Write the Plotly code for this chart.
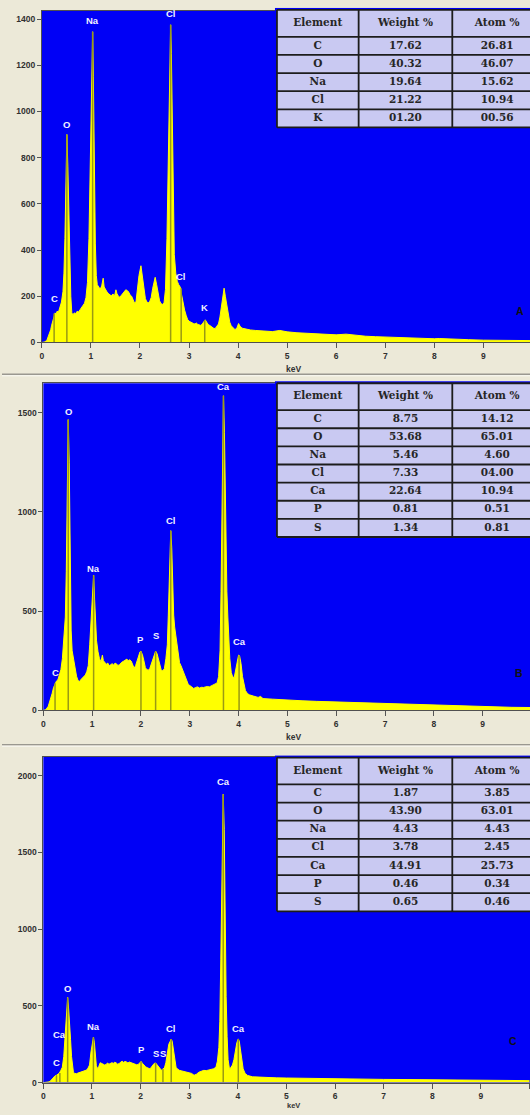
import plotly.graph_objects as go

W, H = 530, 1115

# ---------------- Panel A data ----------------
KEV_A = [0.00, 0.05, 0.10, 0.14, 0.18, 0.20, 0.23, 0.25, 0.27, 0.29, 0.31, 0.34, 0.37, 0.40, 0.43, 0.45,
         0.47, 0.49, 0.51, 0.53, 0.55, 0.57, 0.59, 0.61, 0.63, 0.66, 0.69, 0.72, 0.75, 0.78, 0.81, 0.84,
         0.87, 0.90, 0.93, 0.96, 0.99, 1.02, 1.035, 1.05, 1.07, 1.09, 1.11, 1.13, 1.16, 1.19, 1.22, 1.25,
         1.27, 1.30, 1.33, 1.36, 1.39, 1.42, 1.45, 1.48, 1.51, 1.53, 1.56, 1.59, 1.62, 1.65, 1.68, 1.71,
         1.74, 1.77, 1.80, 1.83, 1.86, 1.89, 1.92, 1.95, 1.98, 2.02, 2.05, 2.08, 2.11, 2.14, 2.17, 2.20,
         2.23, 2.26, 2.29, 2.31, 2.34, 2.37, 2.40, 2.43, 2.46, 2.49, 2.52, 2.55, 2.58, 2.61, 2.625, 2.64,
         2.66, 2.68, 2.70, 2.73, 2.76, 2.79, 2.82, 2.85, 2.88, 2.91, 2.94, 2.97, 3.00, 3.03, 3.06, 3.09,
         3.12, 3.15, 3.18, 3.21, 3.24, 3.27, 3.30, 3.33, 3.36, 3.39, 3.42, 3.45, 3.48, 3.51, 3.54, 3.57,
         3.60, 3.63, 3.66, 3.69, 3.715, 3.74, 3.77, 3.80, 3.83, 3.86, 3.90, 3.94, 3.98, 4.01, 4.04, 4.08,
         4.12, 4.18, 4.25, 4.35, 4.50, 4.70, 4.85, 5.00, 5.20, 5.40, 5.60, 5.80, 6.00, 6.20, 6.40, 6.60,
         6.80, 7.00, 7.20, 7.50, 7.80, 8.00, 8.10, 8.40, 8.70, 9.00, 9.40, 9.70, 10.00]
CPS_A = [0, 2, 8, 30, 55, 75, 100, 118, 128, 122, 135, 132, 150, 175, 220, 300,
         450, 680, 900, 760, 520, 330, 200, 130, 118, 128, 125, 135, 132, 142, 150, 162,
         170, 195, 260, 450, 800, 1200, 1345, 1150, 750, 430, 290, 250, 240, 230, 245, 278,
         240, 225, 218, 212, 205, 203, 210, 200, 228, 212, 200, 196, 205, 212, 220, 228,
         225, 218, 205, 200, 185, 170, 178, 230, 290, 332, 280, 225, 190, 175, 172, 178,
         195, 235, 270, 282, 250, 215, 180, 168, 165, 170, 230, 450, 850, 1250, 1375, 1250,
         900, 560, 380, 300, 265, 250, 240, 205, 170, 140, 118, 100, 92, 88, 85, 82,
         80, 84, 78, 76, 74, 80, 88, 98, 88, 78, 74, 68, 64, 60, 62, 70,
         80, 110, 160, 210, 235, 200, 160, 110, 88, 72, 62, 55, 65, 82, 70, 62,
         60, 56, 54, 52, 50, 47, 52, 46, 42, 40, 37, 34, 33, 36, 30, 27,
         25, 23, 22, 20, 18, 16, 17, 13, 12, 10, 9, 8, 8]
PEAK_EL_A = ["C", "O", "Na", "Cl", "Cl", "K"]
PEAK_KEV_A = [0.25, 0.51, 1.035, 2.625, 2.84, 3.32]
PEAK_H_A = [125, 900, 1345, 1375, 235, 97]
LABEL_H_A = [158, 913, 1361, 1392, 253, 119]
TAB_EL_A = ["C", "O", "Na", "Cl", "K"]
TAB_WT_A = ["17.62", "40.32", "19.64", "21.22", "01.20"]
TAB_AT_A = ["26.81", "46.07", "15.62", "10.94", "00.56"]

# ---------------- Panel B data ----------------
KEV_B = [0.00, 0.05, 0.10, 0.14, 0.18, 0.21, 0.24, 0.27, 0.30, 0.33, 0.36, 0.39, 0.42, 0.45, 0.47, 0.49,
         0.51, 0.53, 0.55, 0.57, 0.59, 0.62, 0.65, 0.68, 0.71, 0.74, 0.77, 0.80, 0.83, 0.86, 0.89, 0.92,
         0.95, 0.98, 1.00, 1.03, 1.05, 1.07, 1.09, 1.12, 1.15, 1.18, 1.21, 1.23, 1.26, 1.29, 1.32, 1.35,
         1.38, 1.41, 1.44, 1.47, 1.50, 1.53, 1.56, 1.59, 1.62, 1.65, 1.68, 1.71, 1.74, 1.77, 1.80, 1.83,
         1.86, 1.89, 1.92, 1.95, 1.98, 2.00, 2.03, 2.06, 2.09, 2.12, 2.15, 2.18, 2.21, 2.24, 2.27, 2.30,
         2.33, 2.36, 2.39, 2.42, 2.45, 2.48, 2.51, 2.54, 2.56, 2.58, 2.61, 2.63, 2.65, 2.67, 2.69, 2.71,
         2.73, 2.76, 2.79, 2.82, 2.85, 2.88, 2.91, 2.94, 2.97, 3.00, 3.04, 3.08, 3.12, 3.16, 3.20, 3.24,
         3.28, 3.32, 3.36, 3.40, 3.44, 3.48, 3.52, 3.56, 3.59, 3.62, 3.64, 3.66, 3.69, 3.71, 3.73, 3.76,
         3.78, 3.80, 3.82, 3.85, 3.88, 3.91, 3.94, 3.97, 4.00, 4.02, 4.05, 4.08, 4.11, 4.14, 4.18, 4.22,
         4.30, 4.40, 4.45, 4.50, 4.70, 5.00, 5.30, 5.60, 6.00, 6.30, 6.60, 7.00, 7.30, 7.60, 8.00, 8.30,
         8.60, 9.00, 9.30, 9.60, 10.00]
CPS_B = [0, 3, 20, 50, 85, 115, 136, 148, 155, 180, 205, 260, 350, 470, 700, 1100,
         1465, 1250, 800, 400, 300, 255, 210, 172, 150, 145, 155, 162, 168, 178, 195, 225,
         330, 480, 580, 680, 560, 420, 350, 295, 260, 245, 278, 250, 238, 232, 238, 225,
         230, 235, 228, 238, 233, 226, 230, 240, 245, 248, 255, 258, 250, 255, 248, 230,
         212, 225, 250, 275, 295, 298, 280, 250, 215, 205, 202, 210, 230, 255, 280, 298,
         285, 260, 225, 198, 200, 210, 260, 330, 480, 700, 905, 820, 620, 480, 420, 380,
         330, 275, 240, 225, 205, 190, 165, 145, 130, 125, 115, 110, 115, 118, 112, 116,
         115, 118, 120, 118, 122, 126, 130, 138, 170, 300, 600, 1100, 1585, 1400, 950, 600,
         470, 340, 260, 190, 168, 165, 205, 245, 278, 275, 235, 170, 130, 100, 85, 78,
         72, 65, 70, 59, 56, 51, 48, 45, 42, 40, 37, 34, 31, 28, 25, 23,
         20, 17, 16, 15, 14]
PEAK_EL_B = ["C", "O", "Na", "P", "S", "Cl", "Ca", "Ca"]
PEAK_KEV_B = [0.24, 0.51, 1.03, 2.00, 2.30, 2.61, 3.69, 4.01]
PEAK_H_B = [136, 1465, 680, 298, 298, 905, 1585, 278]
LABEL_H_B = [152, 1467, 679, 318, 338, 920, 1593, 308]
TAB_EL_B = ["C", "O", "Na", "Cl", "Ca", "P", "S"]
TAB_WT_B = ["8.75", "53.68", "5.46", "7.33", "22.64", "0.81", "1.34"]
TAB_AT_B = ["14.12", "65.01", "4.60", "04.00", "10.94", "0.51", "0.81"]

# ---------------- Panel C data ----------------
KEV_C = [0.00, 0.05, 0.10, 0.14, 0.18, 0.21, 0.24, 0.27, 0.30, 0.33, 0.36, 0.39, 0.42, 0.44, 0.46, 0.48,
         0.50, 0.52, 0.54, 0.56, 0.58, 0.60, 0.62, 0.65, 0.68, 0.71, 0.74, 0.77, 0.80, 0.83, 0.86, 0.89,
         0.92, 0.95, 0.98, 1.01, 1.03, 1.05, 1.07, 1.09, 1.11, 1.14, 1.17, 1.20, 1.23, 1.26, 1.29, 1.32,
         1.35, 1.38, 1.41, 1.44, 1.47, 1.50, 1.53, 1.56, 1.59, 1.62, 1.65, 1.68, 1.71, 1.74, 1.77, 1.80,
         1.83, 1.86, 1.89, 1.92, 1.95, 1.98, 2.01, 2.04, 2.07, 2.10, 2.13, 2.16, 2.19, 2.22, 2.25, 2.28,
         2.31, 2.34, 2.37, 2.40, 2.43, 2.46, 2.49, 2.52, 2.55, 2.58, 2.61, 2.63, 2.65, 2.67, 2.69, 2.71,
         2.73, 2.76, 2.80, 2.85, 2.90, 2.95, 3.00, 3.05, 3.10, 3.15, 3.20, 3.25, 3.30, 3.35, 3.40, 3.45,
         3.50, 3.55, 3.58, 3.61, 3.63, 3.65, 3.67, 3.70, 3.72, 3.74, 3.76, 3.78, 3.80, 3.83, 3.86, 3.89,
         3.92, 3.95, 3.98, 4.01, 4.03, 4.05, 4.08, 4.11, 4.15, 4.20, 4.30, 4.50, 4.80, 5.00, 5.30, 5.60,
         6.00, 6.30, 6.60, 7.00, 7.50, 8.00, 8.50, 9.00, 9.50, 10.00]
CPS_C = [0, 1, 4, 9, 25, 38, 44, 48, 54, 62, 80, 100, 170, 260, 350, 440,
         555, 480, 400, 280, 170, 90, 65, 60, 58, 62, 65, 68, 72, 75, 78, 82,
         95, 115, 200, 270, 295, 260, 170, 110, 92, 105, 130, 125, 122, 115, 118, 128,
         120, 123, 130, 126, 133, 128, 120, 125, 130, 140, 132, 138, 135, 128, 134, 130,
         125, 122, 120, 116, 118, 130, 138, 125, 112, 105, 98, 92, 90, 100, 112, 125,
         128, 115, 105, 88, 80, 90, 95, 130, 200, 250, 270, 284, 270, 230, 180, 130,
         100, 88, 80, 76, 73, 68, 65, 60, 48, 55, 68, 72, 80, 78, 82, 85,
         90, 100, 140, 230, 400, 800, 1400, 1880, 1650, 1000, 560, 300, 150, 85, 100, 115,
         150, 210, 260, 285, 270, 225, 150, 90, 60, 47, 38, 34, 31, 30, 28, 27,
         26, 24, 23, 21, 20, 19, 17, 15, 14, 13]
PEAK_EL_C = ["C", "Ca", "O", "Na", "P", "S", "S", "Cl", "Ca", "Ca"]
PEAK_KEV_C = [0.27, 0.34, 0.50, 1.03, 2.01, 2.31, 2.46, 2.63, 3.70, 4.01]
PEAK_H_C = [48, 62, 555, 295, 138, 128, 90, 284, 1880, 285]
LABEL_H_C = [80, 262, 567, 320, 164, 138, 138, 307, 1912, 307]
TAB_EL_C = ["C", "O", "Na", "Cl", "Ca", "P", "S"]
TAB_WT_C = ["1.87", "43.90", "4.43", "3.78", "44.91", "0.46", "0.65"]
TAB_AT_C = ["3.85", "63.01", "4.43", "2.45", "25.73", "0.34", "0.46"]

TAB_HEAD = ["Element", "Weight %", "Atom %"]

BEIGE = "#ece9d8"
BLUE = "#0000f6"
YELLOW = "#ffff00"
OLIVE = "#9a9a14"
CELL = "#c9c9f2"
GRID = "#1c1c1c"

# table geometry in pixel units of the table's own axes
COL_EDGES = [0, 82, 176, 266]
HEAD_H = 27
ROW_H = 18.2


def px(x):
    return x / W


def py(y):
    return 1 - y / H


panels = [
    dict(kev=KEV_A, cps=CPS_A, el=PEAK_EL_A, pk=PEAK_KEV_A, ph=PEAK_H_A, lh=LABEL_H_A,
         tab=(TAB_EL_A, TAB_WT_A, TAB_AT_A), xdom=(40, 530), ydom=(344, 11), xr=9.95, yr=1435,
         dt=200, tab_top=10, letter="A", letter_pos=(520, 312), kev_pos=(293, 371), kev_size=8.5),
    dict(kev=KEV_B, cps=CPS_B, el=PEAK_EL_B, pk=PEAK_KEV_B, ph=PEAK_H_B, lh=LABEL_H_B,
         tab=(TAB_EL_B, TAB_WT_B, TAB_AT_B), xdom=(41.5, 530), ydom=(713.5, 385), xr=9.97, yr=1648,
         dt=500, tab_top=385, letter="B", letter_pos=(519, 676), kev_pos=(293, 740), kev_size=8.5),
    dict(kev=KEV_C, cps=CPS_C, el=PEAK_EL_C, pk=PEAK_KEV_C, ph=PEAK_H_C, lh=LABEL_H_C,
         tab=(TAB_EL_C, TAB_WT_C, TAB_AT_C), xdom=(41.5, 530), ydom=(1087.5, 760), xr=10.01, yr=2125,
         dt=500, tab_top=761, letter="C", letter_pos=(513, 1046), kev_pos=(293, 1110), kev_size=7.5),
]

fig = go.Figure()
annotations = []
shapes = []
layout_axes = {}
axis_font = dict(family="Liberation Sans, Arial", size=8.5, color="#303030", weight="bold")

for i, p in enumerate(panels, start=1):
    xa = "x" if i == 1 else f"x{i}"
    ya = "y" if i == 1 else f"y{i}"
    fig.add_trace(go.Scatter(x=p["kev"], y=p["cps"], mode="lines", fill="tozeroy",
                             fillcolor=YELLOW, line=dict(color=YELLOW, width=1),
                             xaxis=xa, yaxis=ya, showlegend=False, hoverinfo="skip"))
    lx, ly = [], []
    for e, h in zip(p["pk"], p["ph"]):
        lx += [e, e, None]
        ly += [0, h, None]
    fig.add_trace(go.Scatter(x=lx, y=ly, mode="lines", line=dict(color=OLIVE, width=1.5),
                             xaxis=xa, yaxis=ya, showlegend=False, hoverinfo="skip"))
    for el, e, lh in zip(p["el"], p["pk"], p["lh"]):
        annotations.append(dict(x=e, y=lh, xref=xa, yref=ya, text=f"<b>{el}</b>", showarrow=False,
                                yanchor="bottom", xanchor="center",
                                font=dict(family="Liberation Sans, Arial", size=9.5, color="#f2f2ff")))
    x0, x1 = p["xdom"]
    yb, yt = p["ydom"]
    layout_axes["xaxis" if i == 1 else f"xaxis{i}"] = dict(
        domain=[px(x0), px(x1)], range=[0, p["xr"]], anchor=ya, dtick=1, tick0=0,
        showgrid=False, zeroline=False, ticks="outside", ticklen=5, tickcolor="#555",
        showline=True, linecolor="#505050", linewidth=1, mirror=True, tickfont=axis_font)
    layout_axes["yaxis" if i == 1 else f"yaxis{i}"] = dict(
        domain=[py(yb), py(yt)], range=[0, p["yr"]], anchor=xa, dtick=p["dt"], tick0=0,
        showgrid=False, zeroline=False, ticks="outside", ticklen=4, tickcolor="#555",
        showline=True, linecolor="#505050", linewidth=1, tickfont=axis_font)

    # ---- composition table drawn on its own hidden axes ----
    j = i + 3
    txa, tya = f"x{j}", f"y{j}"
    els, wts, ats = p["tab"]
    nrow = len(els)
    total = HEAD_H + nrow * ROW_H
    top = p["tab_top"]
    layout_axes[f"xaxis{j}"] = dict(domain=[px(274), 1.0], range=[-2, 254], visible=False,
                                    anchor=tya, fixedrange=True)
    layout_axes[f"yaxis{j}"] = dict(domain=[py(top + total + 2), py(top - 2)], range=[total + 2, -2],
                                    visible=False, anchor=txa, fixedrange=True)
    shapes.append(dict(type="rect", xref=txa, yref=tya, x0=COL_EDGES[0], x1=COL_EDGES[-1], y0=0, y1=total,
                       fillcolor=CELL, line=dict(width=0), layer="below"))
    row_edges = [0, HEAD_H] + [HEAD_H + ROW_H * (k + 1) for k in range(nrow)]
    for ye in row_edges:
        shapes.append(dict(type="line", xref=txa, yref=tya, x0=COL_EDGES[0], x1=COL_EDGES[-1], y0=ye, y1=ye,
                           line=dict(color=GRID, width=1.8)))
    for xe in COL_EDGES:
        shapes.append(dict(type="line", xref=txa, yref=tya, x0=xe, x1=xe, y0=0, y1=total,
                           line=dict(color=GRID, width=1.8)))
    centers = [(COL_EDGES[k] + COL_EDGES[k + 1]) / 2 for k in range(3)]
    tx, ty, tt = [], [], []
    for k, h in enumerate(TAB_HEAD):
        tx.append(centers[k]); ty.append(HEAD_H / 2); tt.append(h)
    for r in range(nrow):
        yc = HEAD_H + ROW_H * r + ROW_H / 2
        for k, col in enumerate((els, wts, ats)):
            tx.append(centers[k]); ty.append(yc); tt.append(col[r])
    fig.add_trace(go.Scatter(x=tx, y=ty, text=tt, mode="text", textposition="middle center",
                             textfont=dict(family="DejaVu Serif", size=10.5, color="#262626", weight="bold"),
                             xaxis=txa, yaxis=tya, showlegend=False, hoverinfo="skip", cliponaxis=False))

    lxp, lyp = p["letter_pos"]
    annotations.append(dict(x=px(lxp), y=py(lyp), xref="paper", yref="paper", text=f"<b>{p['letter']}</b>",
                            showarrow=False, xanchor="center", yanchor="middle",
                            font=dict(family="Liberation Sans, Arial", size=10.5, color="#111")))
    kx, ky = p["kev_pos"]
    annotations.append(dict(x=px(kx), y=py(ky), xref="paper", yref="paper", text="<b>keV</b>",
                            showarrow=False, xanchor="center", yanchor="middle",
                            font=dict(family="Liberation Sans, Arial", size=p["kev_size"], color="#333")))

for yy in (376, 748):
    shapes.append(dict(type="line", xref="paper", yref="paper", x0=0, x1=1, y0=py(yy), y1=py(yy),
                       line=dict(color="#9a9890", width=1.5)))
    shapes.append(dict(type="line", xref="paper", yref="paper", x0=0, x1=1, y0=py(yy + 1.5), y1=py(yy + 1.5),
                       line=dict(color="#fbfaf5", width=1)))

fig.update_layout(width=W, height=H, margin=dict(l=0, r=0, t=0, b=0),
                  paper_bgcolor=BEIGE, plot_bgcolor=BLUE, showlegend=False,
                  annotations=annotations, shapes=shapes, **layout_axes)

fig.write_html("out.html", config={"displayModeBar": False},
               post_script="document.body.style.margin='0';document.body.style.overflow='hidden';")
